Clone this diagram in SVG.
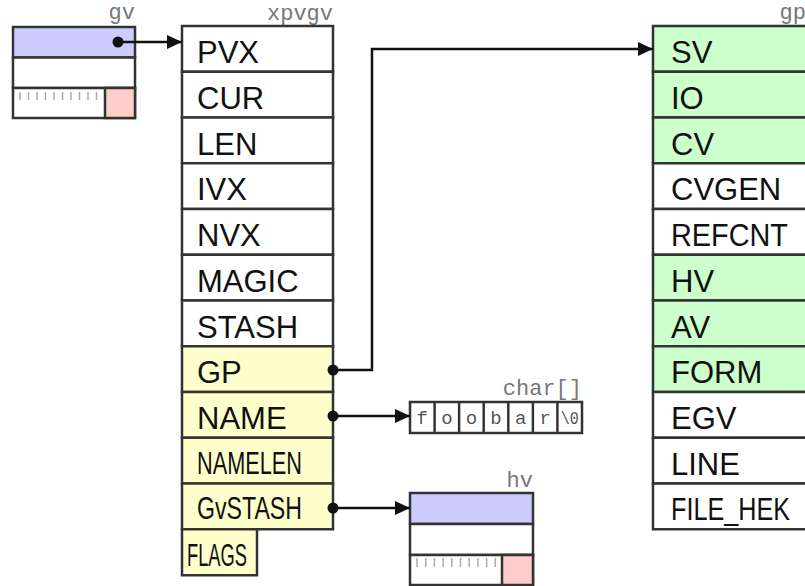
<svg xmlns="http://www.w3.org/2000/svg" width="805" height="586" viewBox="0 0 805 586">
<defs>
<style>
.box{stroke:#333;stroke-width:2.5;}
.w{fill:#ffffff;}
.b{fill:#ccccff;}
.p{fill:#ffcccc;}
.y{fill:#ffffcc;}
.g{fill:#ccffcc;}
.t{font-family:"Liberation Sans",Arial,sans-serif;font-size:31px;fill:#111;}
.lbl{font-family:"Liberation Mono","Courier New",monospace;font-size:22px;fill:#777;text-anchor:end;}
.ch{font-family:"Liberation Mono","Courier New",monospace;font-size:19px;fill:#555;text-anchor:middle;}
.tick{stroke:#aaa;stroke-width:1.5;}
.con{stroke:#111;stroke-width:2.5;fill:none;}
.dot{fill:#111;}
</style>
<marker id="ah" markerUnits="userSpaceOnUse" markerWidth="16" markerHeight="14" refX="15" refY="7" orient="auto">
<path d="M0,0 L15,7 L0,14 Z" fill="#111"/>
</marker>
</defs>
<rect width="805" height="586" fill="#ffffff"/>

<g id="gv">
<text class="lbl" x="135" y="19">gv</text>
<rect class="box b" x="13" y="27" width="122" height="30.5"/>
<rect class="box w" x="13" y="57.5" width="122" height="30.5"/>
<rect class="box w" x="13" y="88" width="122" height="30"/>
<rect class="box p" x="105" y="88" width="30" height="30"/>
<g class="tick">
<line x1="20" y1="92" x2="20" y2="100"/><line x1="28.5" y1="92" x2="28.5" y2="100"/><line x1="37" y1="92" x2="37" y2="100"/><line x1="45.5" y1="92" x2="45.5" y2="100"/><line x1="54" y1="92" x2="54" y2="100"/><line x1="62.5" y1="92" x2="62.5" y2="100"/><line x1="71" y1="92" x2="71" y2="100"/><line x1="79.5" y1="92" x2="79.5" y2="100"/><line x1="88" y1="92" x2="88" y2="100"/><line x1="96.5" y1="92" x2="96.5" y2="100"/>
</g>
</g>

<g id="xpvgv">
<text class="lbl" x="333" y="20">xpvgv</text>
<rect class="box w" x="182" y="26" width="151" height="45.75"/>
<rect class="box w" x="182" y="71.75" width="151" height="45.75"/>
<rect class="box w" x="182" y="117.5" width="151" height="45.75"/>
<rect class="box w" x="182" y="163.25" width="151" height="45.75"/>
<rect class="box w" x="182" y="209" width="151" height="45.75"/>
<rect class="box w" x="182" y="254.75" width="151" height="45.75"/>
<rect class="box w" x="182" y="300.5" width="151" height="45.75"/>
<rect class="box y" x="182" y="346.25" width="151" height="45.75"/>
<rect class="box y" x="182" y="392" width="151" height="45.75"/>
<rect class="box y" x="182" y="437.75" width="151" height="45.75"/>
<rect class="box y" x="182" y="483.5" width="151" height="45.75"/>
<rect class="box y" x="182" y="529.25" width="75" height="46"/>
<text class="t" x="197" y="63">PVX</text>
<text class="t" x="197" y="108.5">CUR</text>
<text class="t" x="197" y="154.5">LEN</text>
<text class="t" x="197" y="200">IVX</text>
<text class="t" x="197" y="246">NVX</text>
<text class="t" x="197" y="291.5">MAGIC</text>
<text class="t" x="197" y="337.5">STASH</text>
<text class="t" x="197" y="383">GP</text>
<text class="t" x="197" y="429">NAME</text>
<text class="t" x="197" y="473.5" font-size="27" textLength="105" lengthAdjust="spacingAndGlyphs">NAMELEN</text>
<text class="t" x="197" y="519" font-size="27" textLength="105" lengthAdjust="spacingAndGlyphs">GvSTASH</text>
<text class="t" x="187" y="566" font-size="28" textLength="60" lengthAdjust="spacingAndGlyphs">FLAGS</text>
</g>

<g id="gp">
<text class="lbl" x="806" y="19">gp</text>
<rect class="box g" x="653" y="26" width="200" height="45.75"/>
<rect class="box g" x="653" y="71.75" width="200" height="45.75"/>
<rect class="box g" x="653" y="117.5" width="200" height="45.75"/>
<rect class="box w" x="653" y="163.25" width="200" height="45.75"/>
<rect class="box w" x="653" y="209" width="200" height="45.75"/>
<rect class="box g" x="653" y="254.75" width="200" height="45.75"/>
<rect class="box g" x="653" y="300.5" width="200" height="45.75"/>
<rect class="box g" x="653" y="346.25" width="200" height="45.75"/>
<rect class="box w" x="653" y="392" width="200" height="45.75"/>
<rect class="box w" x="653" y="437.75" width="200" height="45.75"/>
<rect class="box w" x="653" y="483.5" width="200" height="45.75"/>
<text class="t" x="671" y="63">SV</text>
<text class="t" x="671" y="108.5">IO</text>
<text class="t" x="671" y="154.5">CV</text>
<text class="t" x="671" y="200">CVGEN</text>
<text class="t" x="671" y="246" textLength="117" lengthAdjust="spacingAndGlyphs">REFCNT</text>
<text class="t" x="671" y="291.5">HV</text>
<text class="t" x="671" y="337.5">AV</text>
<text class="t" x="671" y="383">FORM</text>
<text class="t" x="671" y="429">EGV</text>
<text class="t" x="671" y="474.5">LINE</text>
<text class="t" x="671" y="520" textLength="119" lengthAdjust="spacingAndGlyphs">FILE_HEK</text>
</g>

<g id="char">
<text class="lbl" x="582" y="395">char[]</text>
<rect class="box w" x="410" y="402" width="172" height="31"/>
<g class="box">
<line x1="434.6" y1="402" x2="434.6" y2="433"/><line x1="459.1" y1="402" x2="459.1" y2="433"/><line x1="483.7" y1="402" x2="483.7" y2="433"/><line x1="508.3" y1="402" x2="508.3" y2="433"/><line x1="532.9" y1="402" x2="532.9" y2="433"/><line x1="557.4" y1="402" x2="557.4" y2="433"/>
</g>
<text class="ch" x="422.3" y="424">f</text>
<text class="ch" x="446.9" y="424">o</text>
<text class="ch" x="471.4" y="424">o</text>
<text class="ch" x="496" y="424">b</text>
<text class="ch" x="520.6" y="424">a</text>
<text class="ch" x="545.1" y="424">r</text>
<text class="ch" x="569.7" y="424" font-size="16" textLength="18" lengthAdjust="spacingAndGlyphs">\0</text>
</g>

<g id="hv">
<text class="lbl" x="533" y="487">hv</text>
<rect class="box b" x="410" y="493" width="123" height="31"/>
<rect class="box w" x="410" y="524" width="123" height="31"/>
<rect class="box w" x="410" y="555" width="123" height="30"/>
<rect class="box p" x="502" y="555" width="31" height="30"/>
<g class="tick">
<line x1="417" y1="558" x2="417" y2="567"/><line x1="425.7" y1="558" x2="425.7" y2="567"/><line x1="434.4" y1="558" x2="434.4" y2="567"/><line x1="443.1" y1="558" x2="443.1" y2="567"/><line x1="451.8" y1="558" x2="451.8" y2="567"/><line x1="460.5" y1="558" x2="460.5" y2="567"/><line x1="469.2" y1="558" x2="469.2" y2="567"/><line x1="477.9" y1="558" x2="477.9" y2="567"/><line x1="486.6" y1="558" x2="486.6" y2="567"/><line x1="495.3" y1="558" x2="495.3" y2="567"/>
</g>
</g>

<g id="connectors">
<path class="con" d="M118,42 H182" marker-end="url(#ah)"/>
<circle class="dot" cx="118" cy="42" r="5.5"/>
<path class="con" d="M333,370 H372 V49 H653" marker-end="url(#ah)"/>
<circle class="dot" cx="333" cy="370" r="5.5"/>
<path class="con" d="M333,416 H410" marker-end="url(#ah)"/>
<circle class="dot" cx="333" cy="416" r="5.5"/>
<path class="con" d="M333,508 H410" marker-end="url(#ah)"/>
<circle class="dot" cx="333" cy="508" r="5.5"/>
</g>
</svg>
